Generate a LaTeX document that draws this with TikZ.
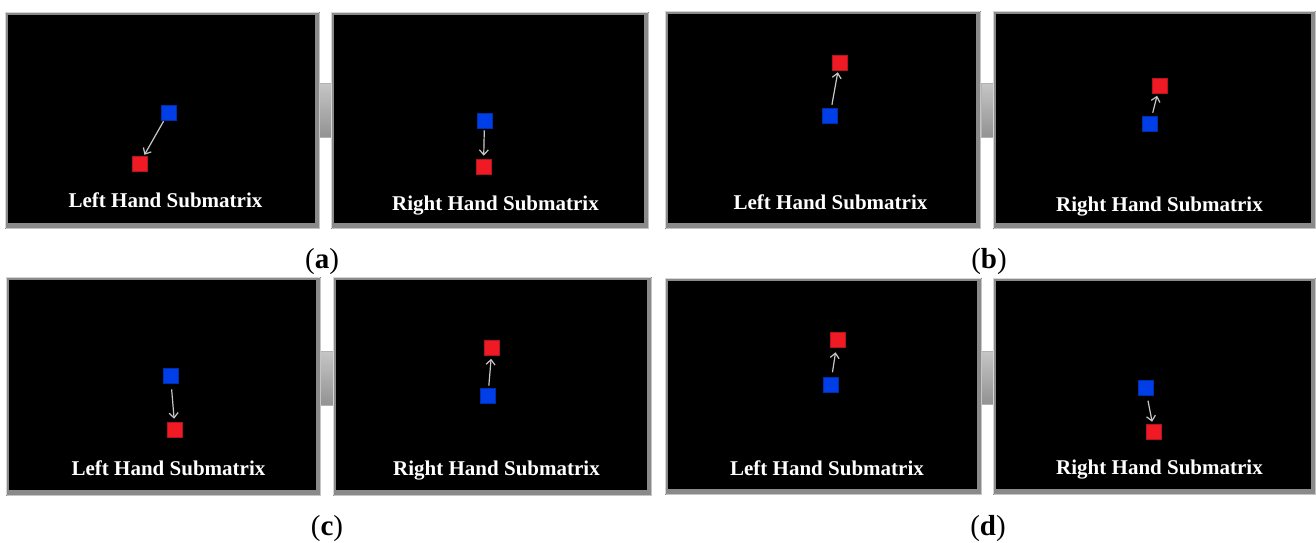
\documentclass[tikz,border=0pt]{standalone}
\usepackage{fontspec}
\setmainfont{Liberation Serif}
\usetikzlibrary{arrows.meta}

\definecolor{sqblue}{RGB}{0,62,232}
\definecolor{sqred}{RGB}{240,26,36}
\definecolor{edgehi}{RGB}{214,214,214}
\definecolor{edgelo}{RGB}{138,138,138}
\definecolor{arrowgray}{RGB}{200,200,200}

\tikzset{
  bluesq/.style={draw=sqblue!75!black, fill=sqblue, minimum size=15pt, inner sep=0pt, line width=0.6pt},
  redsq/.style={draw=sqred!75!black, fill=sqred, minimum size=15pt, inner sep=0pt, line width=0.6pt},
  move/.style={draw=arrowgray, line width=1.2pt, -{Straight Barb[length=5pt,width=9pt,line width=1.2pt]}},
  caption/.style={text=white, font=\bfseries\fontsize{21}{25}\selectfont, anchor=base, inner sep=0pt},
  sublabel/.style={font=\fontsize{29}{34}\selectfont, anchor=base, inner sep=0pt},
}

% bevelled screen frame: #1,#2 top-left corner, #3,#4 bottom-right corner
\newcommand\screenpanel[4]{%
  \fill[edgelo] (#1,#2) rectangle (#3,#4);
  \draw[edgehi, line width=1.2pt] (#1+0.6,#4-0.6) -- (#1+0.6,#2+0.6) -- (#3-0.6,#2+0.6);
  \draw[edgehi!80!gray, line width=1pt] (#1+0.5,#4-0.5) -- (#3-0.5,#4-0.5) -- (#3-0.5,#2+0.5);
  \fill[black] (#1+3,#2+2.5) rectangle (#3-5,#4-6);
}
% grey slider tab between two screens
\newcommand\slidertab[4]{%
  \shade[top color=gray!45, bottom color=gray!85] (#1,#2) rectangle (#3,#4);
  \draw[gray!60, line width=0.6pt] (#1,#2) rectangle (#3,#4);
}

\begin{document}
\begin{tikzpicture}[x=1pt, y=-1pt]
  \fill[white] (0,0) rectangle (1316,542);
  \useasboundingbox (0,0) rectangle (1316,542);

  % ---------- (a) ----------
  \slidertab{319}{83}{332}{137}
  \screenpanel{5}{12}{320}{229}
  \screenpanel{331}{12}{649}{229}
  \node[bluesq] (aLb) at (168.5,112.5) {};
  \node[redsq]  (aLr) at (139.5,163.5) {};
  \draw[move, shorten <=1pt, shorten >=1pt] (aLb) -- (aLr);
  \node[caption] (aLt) at (165.5,207) {Left Hand Submatrix};
  \node[bluesq] (aRb) at (484.5,120.5) {};
  \node[redsq]  (aRr) at (483.5,166.5) {};
  \draw[move, shorten <=2pt, shorten >=3pt] (aRb) -- (aRr);
  \node[caption] (aRt) at (495.5,210) {Right Hand Submatrix};
  \node[sublabel] (la) at (322,268) {(\textbf{a})};

  % ---------- (b) ----------
  \slidertab{981}{83}{994}{137}
  \screenpanel{665}{11}{981}{229}
  \screenpanel{993}{11}{1316}{229}
  \node[bluesq] (bLb) at (830,115.5) {};
  \node[redsq]  (bLr) at (839.5,62.5) {};
  \draw[move, shorten <=3pt, shorten >=2pt] (bLb) -- (bLr);
  \node[caption] (bLt) at (830.5,209) {Left Hand Submatrix};
  \node[bluesq] (bRb) at (1150,123.5) {};
  \node[redsq]  (bRr) at (1159.5,86) {};
  \draw[move, shorten <=3pt, shorten >=2pt] (bRb) -- (bRr);
  \node[caption] (bRt) at (1159.5,211) {Right Hand Submatrix};
  \node[sublabel] (lb) at (989,268) {(\textbf{b})};

  % ---------- (c) ----------
  \slidertab{320}{351}{334}{405}
  \screenpanel{6}{277}{321}{496}
  \screenpanel{333}{277}{652}{496}
  \node[bluesq] (cLb) at (170.5,375.5) {};
  \node[redsq]  (cLr) at (175,429.5) {};
  \draw[move, shorten <=6pt, shorten >=3pt] (cLb) -- (cLr);
  \node[caption] (cLt) at (168.5,475) {Left Hand Submatrix};
  \node[bluesq] (cRb) at (488,395.5) {};
  \node[redsq]  (cRr) at (492,348) {};
  \draw[move, shorten <=2pt, shorten >=3pt] (cRb) -- (cRr);
  \node[caption] (cRt) at (496.5,475) {Right Hand Submatrix};
  \node[sublabel] (lc) at (327,535) {(\textbf{c})};

  % ---------- (d) ----------
  \slidertab{981}{351}{994}{404}
  \screenpanel{665}{278}{982}{495}
  \screenpanel{993}{278}{1316}{495}
  \node[bluesq] (dLb) at (830.5,385) {};
  \node[redsq]  (dLr) at (837.5,339.5) {};
  \draw[move, shorten <=5pt, shorten >=5pt] (dLb) -- (dLr);
  \node[caption] (dLt) at (827,475) {Left Hand Submatrix};
  \node[bluesq] (dRb) at (1145.5,388) {};
  \node[redsq]  (dRr) at (1154,431.5) {};
  \draw[move, shorten <=5pt, shorten >=2pt] (dRb) -- (dRr);
  \node[caption] (dRt) at (1159.5,474) {Right Hand Submatrix};
  \node[sublabel] (ld) at (988,535) {(\textbf{d})};
\end{tikzpicture}
\end{document}
